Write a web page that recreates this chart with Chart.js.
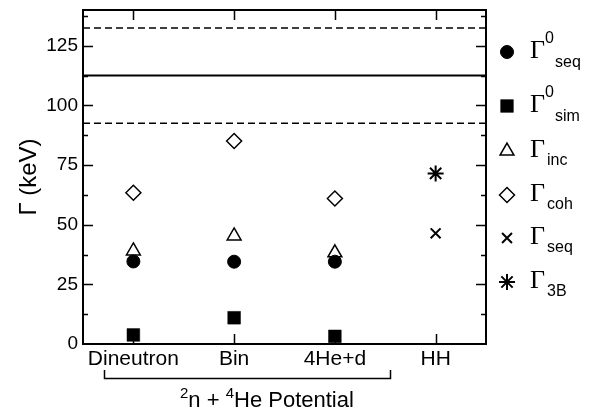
<!DOCTYPE html>
<html>
<head>
<meta charset="utf-8">
<script src="https://cdn.jsdelivr.net/npm/chart.js@4/dist/chart.umd.min.js"></script>
<style>
  html, body { margin: 0; padding: 0; background: #fff; }
</style>
</head>
<body>
<canvas id="chart" width="600" height="412"></canvas>
<script>
// ── Data ───────────────────────────────────────────────────────────
const categories = ['Dineutron', 'Bin', '4He+d', 'HH'];
const yTicks = [0, 25, 50, 75, 100, 125];

const gammaSeq0 = [34.6, 34.5, 34.5, null];
const gammaSim0 = [3.8, 11.0, 3.2, null];
const gammaInc = [39.0, 45.3, 38.2, null];
const gammaCoh = [63.4, 85.1, 61.0, null];
const gammaSeq = [null, null, null, 46.4];
const gamma3B = [null, null, null, 71.5];

// experimental width and its error band
const expCentral = 112.5;
const expLow = 92.5;
const expHigh = 132.5;

// ── Helpers ────────────────────────────────────────────────────────
function toPoints(arr) {
  return arr
    .map(function (v, i) { return v === null ? null : { x: i, y: v }; })
    .filter(Boolean);
}

function hLine(level) {
  return [{ x: -0.5, y: level }, { x: categories.length - 0.5, y: level }];
}

// ── Series styling ────────────────────────────────────────────────
const series = [
  { data: gammaSeq0, sub: 'seq', sup: '0', pointStyle: 'circle', radius: 6.5, fill: '#000', bw: 1 },
  { data: gammaSim0, sub: 'sim', sup: '0', pointStyle: 'rect', radius: 9, fill: '#000', bw: 0.5 },
  { data: gammaInc, sub: 'inc', sup: '', pointStyle: 'triangle', radius: 8, fill: 'rgba(0,0,0,0)', bw: 1.5 },
  { data: gammaCoh, sub: 'coh', sup: '', pointStyle: 'rectRot', radius: 7.5, fill: 'rgba(0,0,0,0)', bw: 1.5 },
  { data: gammaSeq, sub: 'seq', sup: '', pointStyle: 'crossRot', radius: 7, fill: 'rgba(0,0,0,0)', bw: 2 },
  { data: gamma3B, sub: '3B', sup: '', pointStyle: 'star', radius: 8, fill: 'rgba(0,0,0,0)', bw: 2 },
];

const datasets = series.map(function (s) {
  return {
    data: toPoints(s.data),
    pointStyle: s.pointStyle,
    pointRadius: s.radius,
    pointBackgroundColor: s.fill,
    pointBorderColor: '#000',
    pointBorderWidth: s.bw,
    showLine: false,
  };
});

[
  { level: expCentral, dash: [], width: 2 },
  { level: expLow, dash: [7, 4], width: 1.5 },
  { level: expHigh, dash: [7, 4], width: 1.5 },
].forEach(function (l) {
  datasets.push({
    data: hLine(l.level),
    showLine: true,
    borderColor: '#000',
    borderWidth: l.width,
    borderDash: l.dash,
    pointRadius: 0,
  });
});

// ── Frame, inward ticks, titles, bracket and legend ────────────────
const decorations = {
  id: 'decorations',
  afterDraw: function (chart) {
    const ctx = chart.ctx;
    const a = chart.chartArea;
    const x = chart.scales.x;
    const y = chart.scales.y;

    ctx.save();
    ctx.strokeStyle = '#000';
    ctx.fillStyle = '#000';

    // frame
    ctx.lineWidth = 2;
    ctx.strokeRect(a.left, a.top, a.right - a.left, a.bottom - a.top);

    // ticks
    ctx.lineWidth = 1.5;
    ctx.beginPath();
    categories.forEach(function (c, i) {
      const px = Math.round(x.getPixelForValue(i)) + 0.5;
      ctx.moveTo(px, a.bottom); ctx.lineTo(px, a.bottom - 10);
      ctx.moveTo(px, a.top); ctx.lineTo(px, a.top + 10);
    });
    for (let v = 12.5; v < y.max; v += 12.5) {
      const py = Math.round(y.getPixelForValue(v)) + 0.5;
      const len = v % 25 === 0 ? 10 : 5;
      ctx.moveTo(a.left, py); ctx.lineTo(a.left + len, py);
      ctx.moveTo(a.right, py); ctx.lineTo(a.right - len, py);
    }
    ctx.stroke();

    // y axis title
    ctx.save();
    ctx.translate(29, (a.top + a.bottom) / 2);
    ctx.rotate(-Math.PI / 2);
    ctx.font = '24px "Liberation Sans", Arial, sans-serif';
    ctx.textAlign = 'center';
    ctx.textBaseline = 'middle';
    ctx.fillText('\u0393 (keV)', 0, 0);
    ctx.restore();

    // bracket under the first three categories
    ctx.lineWidth = 1.5;
    ctx.beginPath();
    ctx.moveTo(104.5, 370); ctx.lineTo(104.5, 378.5);
    ctx.lineTo(390.5, 378.5); ctx.lineTo(390.5, 370);
    ctx.stroke();

    ctx.textAlign = 'left';
    ctx.textBaseline = 'alphabetic';
    const big = '22px "Liberation Sans", Arial, sans-serif';
    const small = '15px "Liberation Sans", Arial, sans-serif';
    let tx = 180;
    [['2', small, 397.5], ['n + ', big, 406.5], ['4', small, 397.5], ['He Potential', big, 406.5]]
      .forEach(function (p) {
        ctx.font = p[1];
        ctx.fillText(p[0], tx, p[2]);
        tx += ctx.measureText(p[0]).width;
      });

    // legend
    const rowY = [52, 106, 151, 195, 238, 282];
    series.forEach(function (s, i) {
      const my = rowY[i];
      ctx.fillStyle = s.fill;
      ctx.strokeStyle = '#000';
      ctx.lineWidth = s.bw;
      Chart.helpers.drawPoint(ctx, {
        pointStyle: s.pointStyle,
        radius: s.radius,
        rotation: 0,
        borderWidth: s.bw,
      }, 507, my);

      ctx.fillStyle = '#000';
      ctx.font = '26px "Liberation Serif", "Times New Roman", serif';
      ctx.fillText('\u0393', 530, my + 6);
      ctx.font = '16px "Liberation Sans", Arial, sans-serif';
      if (s.sup) {
        ctx.fillText(s.sup, 545, my - 9);
        ctx.fillText(s.sub, 555, my + 15);
      } else {
        ctx.fillText(s.sub, 547, my + 14);
      }
    });

    ctx.restore();
  },
};

// ── Chart ─────────────────────────────────────────────────────────
new Chart(document.getElementById('chart'), {
  type: 'scatter',
  data: { datasets: datasets },
  options: {
    responsive: false,
    animation: false,
    layout: { padding: { top: 10, right: 114, left: 0, bottom: 0 } },
    plugins: {
      legend: { display: false },
      tooltip: { enabled: false },
    },
    scales: {
      x: {
        type: 'linear',
        min: -0.5,
        max: categories.length - 0.5,
        afterBuildTicks: function (s) {
          s.ticks = categories.map(function (c, i) { return { value: i }; });
        },
        afterFit: function (s) {
          s.height = 68;
          s.paddingLeft = 0;
          s.paddingRight = 0;
        },
        ticks: {
          callback: function (v) { return categories[v]; },
          font: { size: 21, family: '"Liberation Sans", Arial, sans-serif' },
          color: '#000',
          padding: 3,
          maxRotation: 0,
          autoSkip: false,
        },
        grid: { display: false, drawTicks: false },
        border: { display: false },
      },
      y: {
        min: 0,
        max: 140,
        afterBuildTicks: function (s) {
          s.ticks = yTicks.map(function (v) { return { value: v }; });
        },
        afterFit: function (s) {
          s.width = 83;
          s.paddingTop = 0;
          s.paddingBottom = 0;
        },
        ticks: {
          font: { size: 19, family: '"Liberation Sans", Arial, sans-serif' },
          color: '#000',
          padding: 5,
        },
        grid: { display: false, drawTicks: false },
        border: { display: false },
      },
    },
  },
  plugins: [decorations],
});
</script>
</body>
</html>
